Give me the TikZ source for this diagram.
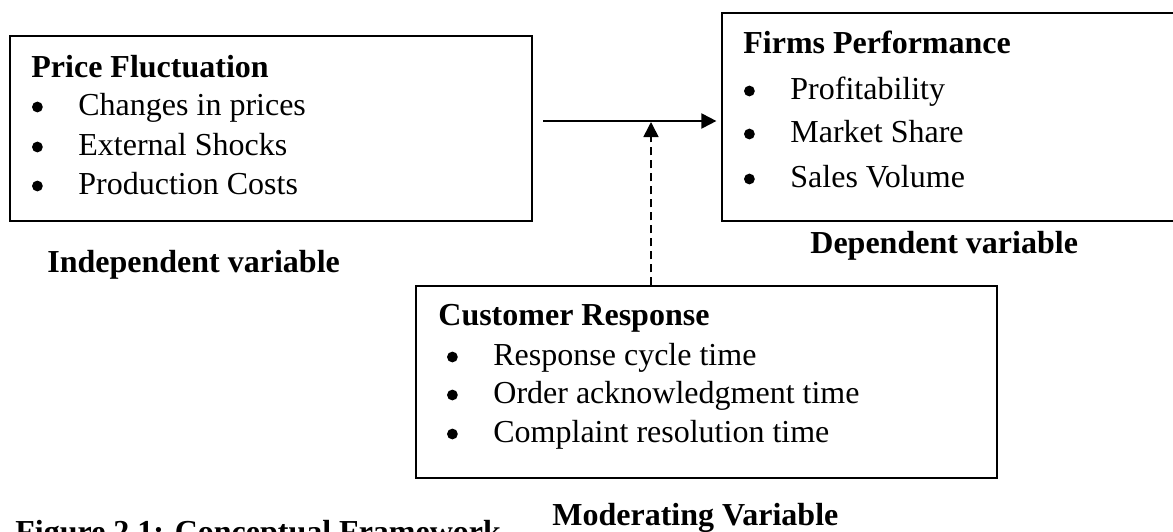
\documentclass[tikz,border=0pt]{standalone}
\usepackage{fontspec}
\setmainfont{Liberation Serif}
\usetikzlibrary{arrows.meta}

% round bullet and one bullet line of a variable box
\newcommand{\bdot}{\tikz[baseline]\fill (0pt,4pt) circle (2.7pt);}
\newcommand{\bitem}[1]{\makebox[23.5pt][l]{\hspace*{0.3pt}\bdot}#1}

\begin{document}
\begin{tikzpicture}[x=0.5pt,y=-0.5pt,
  box/.style={draw,line width=0.6pt,inner sep=0pt},
  txt/.style={anchor=base west,inner sep=0pt,font=\fontsize{16}{19}\selectfont},
  head/.style={txt,font=\fontsize{16}{19}\selectfont\bfseries},
  link/.style={line width=1pt,-{Triangle[length=7.5pt,width=7.5pt]}}]

\useasboundingbox (0,0) rectangle (1173,531);

% Draw the three variable boxes.
\node[box,minimum width=261pt,minimum height=92.5pt] (pf) at (271,128.5) {};
\node[box,minimum width=229pt,minimum height=104pt] (fp) at (951,117) {};
\node[box,minimum width=290.5pt,minimum height=96pt] (cr) at (706.5,382) {};

% independent variable
\node[head] (pfhead) at (31,77) {Price Fluctuation};
\node[txt] (pf1) at (31,115) {\bitem{Changes in prices}};
\node[txt] (pf2) at (31,155) {\bitem{External Shocks}};
\node[txt] (pf3) at (31,194) {\bitem{Production Costs}};

% dependent variable
\node[head] (fphead) at (743,53) {Firms Performance};
\node[txt] (fp1) at (743,99) {\bitem{Profitability}};
\node[txt] (fp2) at (743,142) {\bitem{Market Share}};
\node[txt] (fp3) at (743,187) {\bitem{Sales Volume}};

% moderating variable
\node[head] (crhead) at (438,325) {Customer Response};
\node[txt] (cr1) at (446,365) {\bitem{Response cycle time}};
\node[txt] (cr2) at (446,403) {\bitem{Order acknowledgment time}};
\node[txt] (cr3) at (446,442) {\bitem{Complaint resolution time}};

% labels under the boxes
\node[head] (indep) at (47,272) {Independent variable};
\node[head] (dep) at (810,253) {Dependent variable};
\node[head] (moder) at (552,525) {Moderating Variable};
\node[head] (caption) at (15,542) {Figure 2.1: Conceptual Framework};

% Draw the arrows.
\coordinate (start) at (543,121);
\coordinate (meet) at (651,122);
\draw[link] (start) -- (start -| fp.west) [shorten >=2.5pt];
\draw[link,line width=0.8pt,dash pattern=on 4pt off 2.5pt] (meet |- cr.north) -- (meet);

\end{tikzpicture}
\end{document}
